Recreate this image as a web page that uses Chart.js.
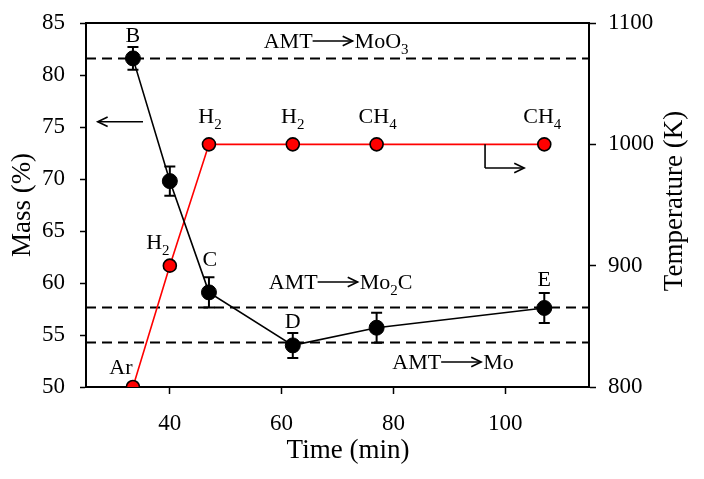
<!DOCTYPE html>
<html><head><meta charset="utf-8">
<script src="https://cdn.jsdelivr.net/npm/chart.js@4/dist/chart.umd.min.js"></script>
<style>html,body{margin:0;padding:0;background:#fff}</style>
</head><body>
<canvas id="c" width="704" height="479"></canvas>
<script>
// ---- data ----
const times = [33.4, 40, 47, 62, 77, 107];
const massValues = [81.6, 69.8, 59.1, 54.0, 55.7, 57.6];
const massErrors = [1.1, 1.4, 1.45, 1.2, 1.45, 1.45];
const massLabels = ['B', '', 'C', 'D', '', 'E'];
const tempValues = [800, 900, 1000, 1000, 1000, 1000];
const tempLabels = ['Ar', 'H_2', 'H_2', 'H_2', 'CH_4', 'CH_4'];
const phaseLevels = [81.6, 57.7, 54.3];
const phaseNames = ['MoO_3', 'Mo_2C', 'Mo'];
const xTicks = [40, 60, 80, 100];
const massTicks = [50, 55, 60, 65, 70, 75, 80, 85];
const tempTicks = [800, 900, 1000, 1100];

const FAMILY = "'Liberation Serif', 'Times New Roman', serif";

function segs(t) {
  const out = []; const re = /_(\d+)/g; let last = 0, m;
  while ((m = re.exec(t))) {
    if (m.index > last) out.push({t: t.slice(last, m.index), sub: false});
    out.push({t: m[1], sub: true}); last = re.lastIndex;
  }
  if (last < t.length) out.push({t: t.slice(last), sub: false});
  return out;
}
function richWidth(ctx, t, size) {
  let w = 0;
  for (const s of segs(t)) { ctx.font = (s.sub ? size * 0.68 : size) + 'px ' + FAMILY; w += ctx.measureText(s.t).width; }
  return w;
}
function drawRich(ctx, t, x, yc, size) {
  const base = yc + size * 0.33;
  ctx.textBaseline = 'alphabetic'; ctx.textAlign = 'left'; ctx.fillStyle = '#000';
  for (const s of segs(t)) {
    const fs = s.sub ? size * 0.68 : size;
    ctx.font = fs + 'px ' + FAMILY;
    ctx.fillText(s.t, x, s.sub ? base + size * 0.27 : base);
    x += ctx.measureText(s.t).width;
  }
  return x;
}
function arrowLine(ctx, x1, y1, x2, y2) {
  ctx.beginPath(); ctx.moveTo(x1, y1); ctx.lineTo(x2, y2); ctx.stroke();
  const ang = Math.atan2(y2 - y1, x2 - x1), L = 11, W = 0.45;
  ctx.beginPath();
  ctx.moveTo(x2 - L * Math.cos(ang - W), y2 - L * Math.sin(ang - W));
  ctx.lineTo(x2, y2);
  ctx.lineTo(x2 - L * Math.cos(ang + W), y2 - L * Math.sin(ang + W));
  ctx.stroke();
}

const annot = {
  id: 'annot',
  beforeDatasetsDraw(chart) {
    const {ctx, chartArea: a, scales: {y}} = chart;
    ctx.save();
    ctx.strokeStyle = '#000'; ctx.lineWidth = 2;
    ctx.beginPath(); ctx.moveTo(a.left - 1, a.top); ctx.lineTo(a.right + 1, a.top); ctx.stroke();
    ctx.setLineDash([10, 6]);
    phaseLevels.forEach(v => {
      const py = Math.round(y.getPixelForValue(v)) + 0.5;
      ctx.beginPath(); ctx.moveTo(a.left, py); ctx.lineTo(a.right, py); ctx.stroke();
    });
    ctx.restore();
  },
  afterDatasetsDraw(chart, args, o) {
    const {ctx, scales: {x, y, y2}} = chart;
    ctx.save();
    ctx.strokeStyle = '#000'; ctx.lineWidth = 2;
    times.forEach((t, i) => {
      const px = x.getPixelForValue(t);
      const pt = y.getPixelForValue(massValues[i] + massErrors[i]);
      const pb = y.getPixelForValue(massValues[i] - massErrors[i]);
      ctx.beginPath();
      ctx.moveTo(px, pt); ctx.lineTo(px, pb);
      ctx.moveTo(px - 5.5, pt); ctx.lineTo(px + 5.5, pt);
      ctx.moveTo(px - 5.5, pb); ctx.lineTo(px + 5.5, pb);
      ctx.stroke();
    });
    const S = 22;
    massLabels.forEach((lb, i) => {
      if (!lb) return;
      const [dx, dy] = o.massOff[i];
      const w = richWidth(ctx, lb, S);
      drawRich(ctx, lb, x.getPixelForValue(times[i]) + dx - w / 2, y.getPixelForValue(massValues[i]) + dy, S);
    });
    tempLabels.forEach((lb, i) => {
      if (!lb) return;
      const [dx, dy] = o.tempOff[i];
      const w = richWidth(ctx, lb, S);
      drawRich(ctx, lb, x.getPixelForValue(times[i]) + dx - w / 2, y2.getPixelForValue(tempValues[i]) + dy, S);
    });
    ctx.lineWidth = 1.6;
    phaseNames.forEach((nm, i) => {
      const [tx, ty] = o.phasePos[i];
      let px = x.getPixelForValue(tx), py = y.getPixelForValue(ty);
      px = drawRich(ctx, 'AMT', px, py, S);
      arrowLine(ctx, px, py, px + 40, py);
      drawRich(ctx, nm, px + 42, py, S);
    });
    const la = o.leftArrow;
    arrowLine(ctx, x.getPixelForValue(la[0]), y.getPixelForValue(la[2]), x.getPixelForValue(la[1]), y.getPixelForValue(la[2]));
    const ra = o.rightArrow;
    const rx = x.getPixelForValue(ra[0]), ry1 = y2.getPixelForValue(ra[1]), ry2 = y2.getPixelForValue(ra[2]);
    ctx.beginPath(); ctx.moveTo(rx, ry1); ctx.lineTo(rx, ry2); ctx.stroke();
    arrowLine(ctx, rx, ry2, x.getPixelForValue(ra[3]), ry2);
    ctx.fillStyle = '#000'; ctx.font = '27px ' + FAMILY; ctx.textBaseline = 'middle'; ctx.textAlign = 'center';
    ctx.fillText('Time (min)', o.xTitle[0], o.xTitle[1]);
    ctx.save();
    ctx.translate(o.rightTitle[0], o.rightTitle[1]);
    ctx.rotate(-Math.PI / 2);
    ctx.fillText('Temperature (K)', 0, 0);
    ctx.restore();
    ctx.restore();
  }
};

Chart.defaults.font.family = FAMILY;
Chart.defaults.color = '#000';
const tickFont = {family: FAMILY, size: 23};
const plain = v => String(v);
const noPad = s => { s.paddingTop = 0; s.paddingBottom = 0; s.paddingLeft = 0; s.paddingRight = 0; };

new Chart(document.getElementById('c'), {
  type: 'line',
  data: {
    datasets: [
      {
        label: 'Mass', yAxisID: 'y',
        data: times.map((t, i) => ({x: t, y: massValues[i]})),
        borderColor: '#000', borderWidth: 1.6, backgroundColor: '#000',
        pointRadius: 7.5, pointBackgroundColor: '#000', pointBorderColor: '#000', pointBorderWidth: 1
      },
      {
        label: 'Temperature', yAxisID: 'y2',
        data: times.map((t, i) => ({x: t, y: tempValues[i]})),
        borderColor: '#ff0000', borderWidth: 1.6, backgroundColor: '#ff0000',
        pointRadius: 6.5, pointBackgroundColor: '#ff0000', pointBorderColor: '#000', pointBorderWidth: 1.6
      }
    ]
  },
  options: {
    responsive: false, animation: false, devicePixelRatio: 1,
    layout: {padding: {top: 23, left: 0, right: 0, bottom: 0}, autoPadding: false},
    plugins: {
      legend: {display: false}, tooltip: {enabled: false},
      annot: {
        massOff: [[0, -24], [0, 0], [1, -34], [0, -25], [0, 0], [0, -29]],
        tempOff: [[-12, -20], [-12, -24], [1, -29], [0, -29], [1, -29], [-2, -29]],
        phasePos: [[56.8, 83.27], [57.7, 60.1], [79.8, 52.4]],
        leftArrow: [35.2, 27.1, 75.5],
        rightArrow: [96.4, 1000, 980.5, 103.4],
        xTitle: [348, 451],
        rightTitle: [675, 201]
      }
    },
    scales: {
      x: {
        type: 'linear', position: 'bottom', min: 25, max: 115,
        afterBuildTicks: s => { s.ticks = xTicks.map(v => ({value: v})); },
        afterFit: s => { s.height = 92; noPad(s); },
        grid: {drawOnChartArea: false, drawTicks: true, tickLength: 7, tickColor: '#000', tickWidth: 1.5},
        border: {color: '#000', width: 2},
        ticks: {color: '#000', font: tickFont, padding: 16, maxRotation: 0, callback: plain},
        title: {display: false}
      },
      y: {
        type: 'linear', position: 'left', min: 50, max: 85,
        afterBuildTicks: s => { s.ticks = massTicks.map(v => ({value: v})); },
        afterFit: s => { s.width = 86; noPad(s); },
        grid: {drawOnChartArea: false, drawTicks: true, tickLength: 6, tickColor: '#000', tickWidth: 1.5},
        border: {color: '#000', width: 2},
        ticks: {color: '#000', font: tickFont, padding: 15, callback: plain},
        title: {display: true, text: 'Mass (%)', color: '#000', font: {family: FAMILY, size: 27}, padding: {top: 7, bottom: 0}}
      },
      y2: {
        type: 'linear', position: 'right', min: 800, max: 1100,
        afterBuildTicks: s => { s.ticks = tempTicks.map(v => ({value: v})); },
        afterFit: s => { s.width = 115; noPad(s); },
        grid: {drawOnChartArea: false, drawTicks: true, tickLength: 7, tickColor: '#000', tickWidth: 1.5},
        border: {color: '#000', width: 2},
        ticks: {color: '#000', font: tickFont, padding: 12, callback: plain}
      }
    }
  },
  plugins: [annot]
});
</script>
</body></html>
